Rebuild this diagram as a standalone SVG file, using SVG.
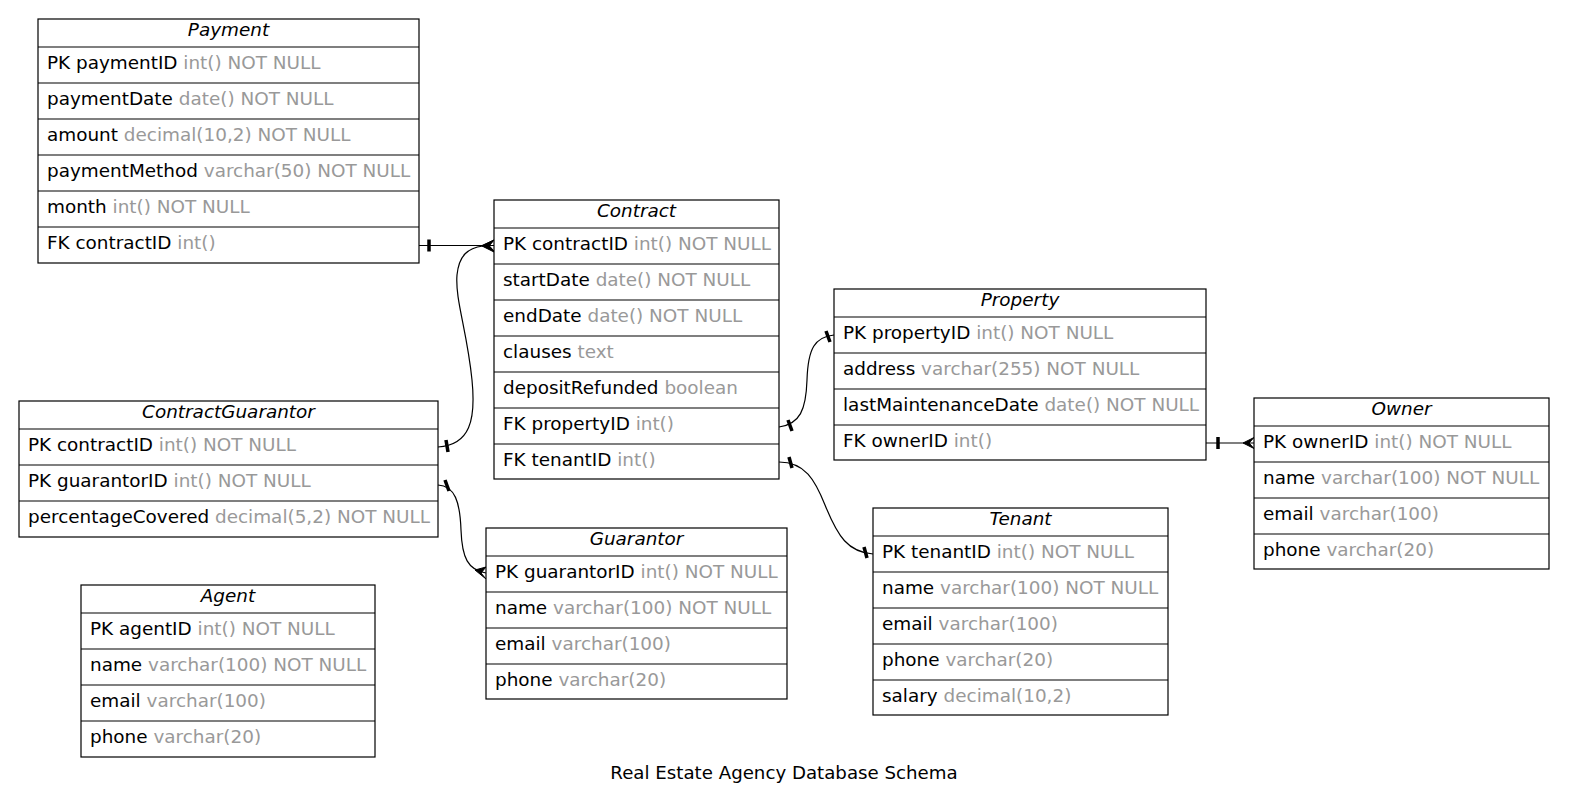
<svg xmlns="http://www.w3.org/2000/svg" width="1574" height="809" viewBox="0 0 1574 809">
<style>
.box{fill:#fff;stroke:#000;stroke-width:1.2}
.sep{stroke:#000;stroke-width:1.2}
text{font-family:"DejaVu Sans",sans-serif;font-size:18.4px;fill:#000}
.h{font-style:italic;text-anchor:middle}
.t{fill:#999}
.e{fill:none;stroke:#000;stroke-width:1.2}
.tee{stroke:#000;stroke-width:3.5}
.crow{fill:#000;stroke:#000;stroke-width:1}
.title{text-anchor:middle;font-size:18.2px}
</style>
<rect width="1574" height="809" fill="#fff"/>

<g id="connectors">
<!-- Payment -> Contract -->
<path class="e" d="M419,245.5 L494,245.5"/>
<line class="tee" x1="429" y1="239.5" x2="429" y2="251.5"/>
<polygon class="crow" points="494,240 482,245.5 494,251 489,245.5"/>
<!-- ContractGuarantor.contractID -> Contract.contractID -->
<path class="e" d="M438,447 C470,445 476,420 472,380 C467,330 455,300 457,275 C459,255 468,248 483,246"/>
<line class="tee" x1="446" y1="440" x2="448" y2="452"/>
<polygon class="crow" points="494,240 482,246 494,252 489,246"/>
<!-- ContractGuarantor.guarantorID -> Guarantor.guarantorID -->
<path class="e" d="M438,485 C455,486 460,502 461,530 C462,558 468,570 486,573"/>
<line class="tee" x1="445" y1="480" x2="449" y2="491"/>
<polygon class="crow" points="486,567 475,570 486,579 481,573"/>
<!-- Contract.propertyID -> Property.propertyID -->
<path class="e" d="M779,427 C800,424 806,410 807,380 C808,348 815,337 834,335"/>
<line class="tee" x1="788" y1="420" x2="792" y2="431"/>
<line class="tee" x1="826" y1="331" x2="830" y2="342"/>
<!-- Contract.tenantID -> Tenant.tenantID -->
<path class="e" d="M779,462 C805,462 815,480 825,505 C838,537 848,552 873,554"/>
<line class="tee" x1="789" y1="457" x2="792" y2="468"/>
<line class="tee" x1="864" y1="547" x2="867" y2="558"/>
<!-- Property.ownerID -> Owner.ownerID -->
<path class="e" d="M1206,443 L1254,443"/>
<line class="tee" x1="1218" y1="437" x2="1218" y2="449"/>
<polygon class="crow" points="1254,437.5 1243,443 1254,448.5 1249,443"/>
</g>

<g id="Payment">
<rect class="box" x="38" y="19" width="381" height="244"/>
<line class="sep" x1="38" y1="47" x2="419" y2="47"/>
<line class="sep" x1="38" y1="83" x2="419" y2="83"/>
<line class="sep" x1="38" y1="119" x2="419" y2="119"/>
<line class="sep" x1="38" y1="155" x2="419" y2="155"/>
<line class="sep" x1="38" y1="191" x2="419" y2="191"/>
<line class="sep" x1="38" y1="227" x2="419" y2="227"/>
<text class="h" x="228.5" y="36">Payment</text>
<text x="47" y="69">PK paymentID <tspan class="t">int() NOT NULL</tspan></text>
<text x="47" y="105">paymentDate <tspan class="t">date() NOT NULL</tspan></text>
<text x="47" y="141">amount <tspan class="t">decimal(10,2) NOT NULL</tspan></text>
<text x="47" y="177">paymentMethod <tspan class="t">varchar(50) NOT NULL</tspan></text>
<text x="47" y="213">month <tspan class="t">int() NOT NULL</tspan></text>
<text x="47" y="249">FK contractID <tspan class="t">int()</tspan></text>
</g>

<g id="Contract">
<rect class="box" x="494" y="200" width="285" height="279"/>
<line class="sep" x1="494" y1="228" x2="779" y2="228"/>
<line class="sep" x1="494" y1="264" x2="779" y2="264"/>
<line class="sep" x1="494" y1="300" x2="779" y2="300"/>
<line class="sep" x1="494" y1="336" x2="779" y2="336"/>
<line class="sep" x1="494" y1="372" x2="779" y2="372"/>
<line class="sep" x1="494" y1="408" x2="779" y2="408"/>
<line class="sep" x1="494" y1="444" x2="779" y2="444"/>
<text class="h" x="636.5" y="217">Contract</text>
<text x="503" y="250">PK contractID <tspan class="t">int() NOT NULL</tspan></text>
<text x="503" y="286">startDate <tspan class="t">date() NOT NULL</tspan></text>
<text x="503" y="322">endDate <tspan class="t">date() NOT NULL</tspan></text>
<text x="503" y="358">clauses <tspan class="t">text</tspan></text>
<text x="503" y="394">depositRefunded <tspan class="t">boolean</tspan></text>
<text x="503" y="430">FK propertyID <tspan class="t">int()</tspan></text>
<text x="503" y="466">FK tenantID <tspan class="t">int()</tspan></text>
</g>

<g id="Property">
<rect class="box" x="834" y="289" width="372" height="171"/>
<line class="sep" x1="834" y1="317" x2="1206" y2="317"/>
<line class="sep" x1="834" y1="353" x2="1206" y2="353"/>
<line class="sep" x1="834" y1="389" x2="1206" y2="389"/>
<line class="sep" x1="834" y1="425" x2="1206" y2="425"/>
<text class="h" x="1020" y="306">Property</text>
<text x="843" y="339">PK propertyID <tspan class="t">int() NOT NULL</tspan></text>
<text x="843" y="375">address <tspan class="t">varchar(255) NOT NULL</tspan></text>
<text x="843" y="411">lastMaintenanceDate <tspan class="t">date() NOT NULL</tspan></text>
<text x="843" y="447">FK ownerID <tspan class="t">int()</tspan></text>
</g>

<g id="Owner">
<rect class="box" x="1254" y="398" width="295" height="171"/>
<line class="sep" x1="1254" y1="426" x2="1549" y2="426"/>
<line class="sep" x1="1254" y1="462" x2="1549" y2="462"/>
<line class="sep" x1="1254" y1="498" x2="1549" y2="498"/>
<line class="sep" x1="1254" y1="534" x2="1549" y2="534"/>
<text class="h" x="1401.5" y="415">Owner</text>
<text x="1263" y="448">PK ownerID <tspan class="t">int() NOT NULL</tspan></text>
<text x="1263" y="484">name <tspan class="t">varchar(100) NOT NULL</tspan></text>
<text x="1263" y="520">email <tspan class="t">varchar(100)</tspan></text>
<text x="1263" y="556">phone <tspan class="t">varchar(20)</tspan></text>
</g>

<g id="ContractGuarantor">
<rect class="box" x="19" y="401" width="419" height="136"/>
<line class="sep" x1="19" y1="429" x2="438" y2="429"/>
<line class="sep" x1="19" y1="465" x2="438" y2="465"/>
<line class="sep" x1="19" y1="501" x2="438" y2="501"/>
<text class="h" x="228.5" y="418">ContractGuarantor</text>
<text x="28" y="451">PK contractID <tspan class="t">int() NOT NULL</tspan></text>
<text x="28" y="487">PK guarantorID <tspan class="t">int() NOT NULL</tspan></text>
<text x="28" y="523">percentageCovered <tspan class="t">decimal(5,2) NOT NULL</tspan></text>
</g>

<g id="Guarantor">
<rect class="box" x="486" y="528" width="301" height="171"/>
<line class="sep" x1="486" y1="556" x2="787" y2="556"/>
<line class="sep" x1="486" y1="592" x2="787" y2="592"/>
<line class="sep" x1="486" y1="628" x2="787" y2="628"/>
<line class="sep" x1="486" y1="664" x2="787" y2="664"/>
<text class="h" x="636.5" y="545">Guarantor</text>
<text x="495" y="578">PK guarantorID <tspan class="t">int() NOT NULL</tspan></text>
<text x="495" y="614">name <tspan class="t">varchar(100) NOT NULL</tspan></text>
<text x="495" y="650">email <tspan class="t">varchar(100)</tspan></text>
<text x="495" y="686">phone <tspan class="t">varchar(20)</tspan></text>
</g>

<g id="Tenant">
<rect class="box" x="873" y="508" width="295" height="207"/>
<line class="sep" x1="873" y1="536" x2="1168" y2="536"/>
<line class="sep" x1="873" y1="572" x2="1168" y2="572"/>
<line class="sep" x1="873" y1="608" x2="1168" y2="608"/>
<line class="sep" x1="873" y1="644" x2="1168" y2="644"/>
<line class="sep" x1="873" y1="680" x2="1168" y2="680"/>
<text class="h" x="1020.5" y="525">Tenant</text>
<text x="882" y="558">PK tenantID <tspan class="t">int() NOT NULL</tspan></text>
<text x="882" y="594">name <tspan class="t">varchar(100) NOT NULL</tspan></text>
<text x="882" y="630">email <tspan class="t">varchar(100)</tspan></text>
<text x="882" y="666">phone <tspan class="t">varchar(20)</tspan></text>
<text x="882" y="702">salary <tspan class="t">decimal(10,2)</tspan></text>
</g>

<g id="Agent">
<rect class="box" x="81" y="585" width="294" height="172"/>
<line class="sep" x1="81" y1="613" x2="375" y2="613"/>
<line class="sep" x1="81" y1="649" x2="375" y2="649"/>
<line class="sep" x1="81" y1="685" x2="375" y2="685"/>
<line class="sep" x1="81" y1="721" x2="375" y2="721"/>
<text class="h" x="228" y="602">Agent</text>
<text x="90" y="635">PK agentID <tspan class="t">int() NOT NULL</tspan></text>
<text x="90" y="671">name <tspan class="t">varchar(100) NOT NULL</tspan></text>
<text x="90" y="707">email <tspan class="t">varchar(100)</tspan></text>
<text x="90" y="743">phone <tspan class="t">varchar(20)</tspan></text>
</g>

<text class="title" x="784" y="779">Real Estate Agency Database Schema</text>
</svg>
